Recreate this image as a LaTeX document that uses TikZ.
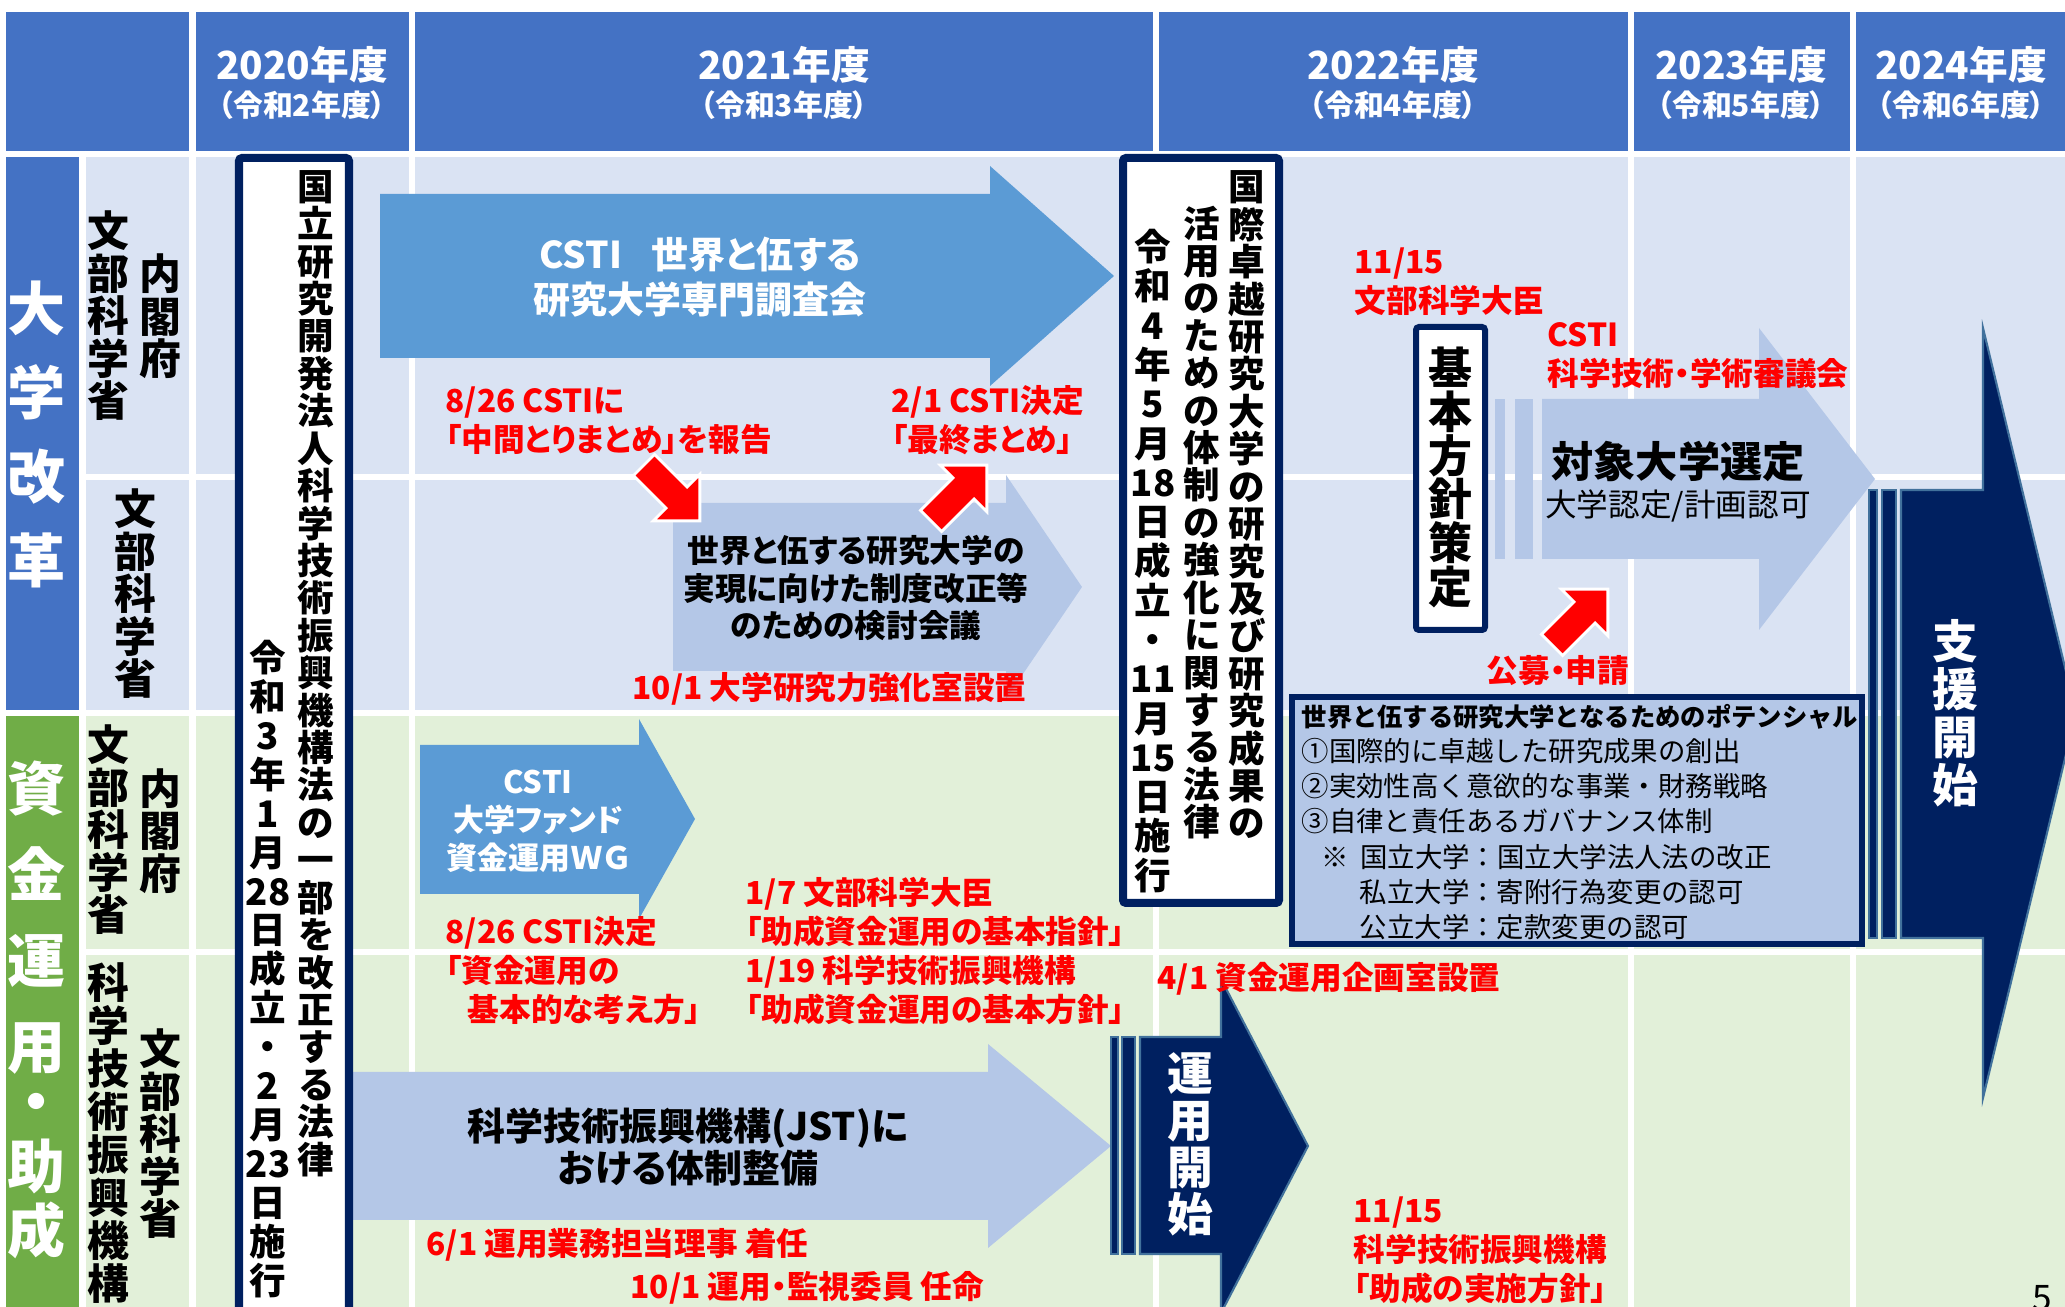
\documentclass[tikz,border=0pt]{standalone}
\usepackage{fontspec}
\setmainfont{Noto Sans CJK JP}[RawFeature=+palt]
\newfontfamily\plainjp{Noto Sans CJK JP}
\usetikzlibrary{positioning}
\definecolor{hdblue}{HTML}{4472C4}
\definecolor{cellblue}{HTML}{DAE3F3}
\definecolor{cellgreen}{HTML}{E2F0D9}
\definecolor{bandgreen}{HTML}{70AD47}
\definecolor{arrblue}{HTML}{5B9BD5}
\definecolor{arrlight}{HTML}{B4C7E7}
\definecolor{navy}{HTML}{002060}
\definecolor{navyedge}{HTML}{41719C}
\definecolor{alert}{HTML}{FF0000}
% vertical (tategaki) text: one character per line, {28} keeps digits together
\makeatletter
\newcommand\tate[2][1em]{\vbox{\baselineskip=#1\lineskiplimit=-\maxdimen\lineskip=0pt\tate@i#2\tate@end}}
\def\tate@end{\tate@end}
\def\tate@i#1{\ifx\tate@end#1\else\hbox to 1em{\hss#1\hss}\expandafter\tate@i\fi}
\makeatother
\tikzset{
  hdr/.style={text=white, inner sep=0, font=\fontsize{11}{13}\selectfont\bfseries},
  hdrsub/.style={text=white, inner sep=0, font=\fontsize{8.5}{10}\selectfont\bfseries},
  band/.style={text=white, inner sep=0, font=\fontsize{16.5}{20}\selectfont\bfseries},
  org/.style={inner sep=0, font=\fontsize{11.9}{14}\selectfont\bfseries},
  law/.style={inner sep=0, font=\fontsize{10.4}{12}\selectfont\bfseries},
  note/.style={text=alert, inner sep=0, anchor=west, align=left, font=\fontsize{9}{11.1}\selectfont\bfseries},
  arrtext/.style={inner sep=0, align=center},
  navyarrow/.style={fill=navy, draw=navyedge, line width=0.6pt},
  pointer/.style={fill=alert, draw=white, line width=0.8pt, line join=miter},
  cellline/.style={white, line width=0.06cm},
  lawbox/.style={draw=navy, fill=white, rounded corners=0.03cm}
}

\begin{document}
\begin{tikzpicture}[x=0.01cm, y=-0.01cm]
  \useasboundingbox (0,0) rectangle (2065,1307);
  \fill[white] (0,0) rectangle (2065,1307);

  % table: header, row bands, grid
  \fill[hdblue] (6,12) rectangle (2065,151);
  \fill[hdblue] (6,157) rectangle (79,710);
  \fill[bandgreen] (6,716) rectangle (79,1307);
  \fill[cellblue] (86,157) rectangle (2065,710);
  \fill[cellgreen] (86,716) rectangle (2065,1307);
  \draw[cellline] (82.5,151) -- (82.5,1307);
  \draw[cellline] (192.5,12) -- (192.5,1307);
  \draw[cellline] (411.5,12) -- (411.5,1307);
  \draw[cellline] (1155.5,12) -- (1155.5,1307);
  \draw[cellline] (1631,12) -- (1631,1307);
  \draw[cellline] (1852.5,12) -- (1852.5,1307);
  \draw[cellline] (86,477.5) -- (2065,477.5);
  \draw[cellline] (86,952) -- (2065,952);

  \node[hdr] (fy20) at (302,65) {2020年度};
  \node[hdrsub] (wa20) at (302,105) {（令和2年度）};
  \node[hdr] (fy21) at (784,65) {2021年度};
  \node[hdrsub] (wa21) at (784,105) {（令和3年度）};
  \node[hdr] (fy22) at (1393,65) {2022年度};
  \node[hdrsub] (wa22) at (1393,105) {（令和4年度）};
  \node[hdr] (fy23) at (1741,65) {2023年度};
  \node[hdrsub] (wa23) at (1741,105) {（令和5年度）};
  \node[hdr] (fy24) at (1961,65) {2024年度};
  \node[hdrsub] (wa24) at (1961,105) {（令和6年度）};

  \node[band] (kaikaku) at (37,434.5) {\tate[23.8pt]{大学改革}};
  \node[band] (shikin) at (37,917.5) {\tate[24.4pt]{資金運用}};
  \node[band] (josei) at (37,1176.5) {\tate[18.35pt]{・助成}};

  \node[org] (mext1) at (108,316) {\tate[12.1pt]{文部科学省}};
  \node[org] (cao1) at (160,316.5) {\tate[12.1pt]{内閣府}};
  \node[org] (mext2) at (135,594) {\tate[12.1pt]{文部科学省}};
  \node[org] (mext3) at (108,830) {\tate[12.1pt]{文部科学省}};
  \node[org] (cao3) at (160,831) {\tate[12.1pt]{内閣府}};
  \node[org] (jst4) at (108,1133) {\tate[12.2pt]{科学技術振興機構}};
  \node[org] (mext4) at (160,1134) {\tate[12.1pt]{文部科学省}};

  % block arrows
  \fill[arrblue] (380,194) -- (990,194) -- (990,166) -- (1114,276) -- (990,386) -- (990,358) -- (380,358) -- cycle;
  \fill[arrlight] (673,503) -- (1006,503) -- (1006,475) -- (1082,587) -- (1006,699) -- (1006,671) -- (673,671) -- cycle;
  \fill[arrblue] (420,745) -- (639,745) -- (639,719) -- (695,819) -- (639,919) -- (639,894) -- (420,894) -- cycle;
  \fill[arrlight] (345,1072) -- (988,1072) -- (988,1044) -- (1111,1146) -- (988,1248) -- (988,1220) -- (345,1220) -- cycle;
  \fill[arrlight] (1495,399) rectangle (1505,559);
  \fill[arrlight] (1515,399) rectangle (1533,559);
  \fill[arrlight] (1542,399) -- (1759,399) -- (1759,328) -- (1875,479) -- (1759,630) -- (1759,559) -- (1542,559) -- cycle;
  \filldraw[navyarrow] (1111,1037) rectangle (1118,1254);
  \filldraw[navyarrow] (1122,1037) rectangle (1135,1254);
  \filldraw[navyarrow] (1140,1037) -- (1221,1037) -- (1221,979) -- (1308,1146) -- (1221,1313) -- (1221,1254) -- (1140,1254) -- cycle;
  \filldraw[navyarrow] (1869,490) rectangle (1877,938);
  \filldraw[navyarrow] (1882,490) rectangle (1896,938);
  \filldraw[navyarrow] (1901,490) -- (1983,490) -- (1983,328) -- (2076,713) -- (1983,1098) -- (1983,938) -- (1901,938) -- cycle;

  % law boxes
  \draw[lawbox, line width=0.08cm] (239,158) rectangle (349,1320);
  \draw[lawbox, line width=0.08cm] (1123,158) rectangle (1279,903);
  \draw[lawbox, line width=0.06cm] (1416,327) rectangle (1485,630);
  \draw[navy, line width=0.06cm, fill=arrlight] (1292,697) rectangle (1862,944);

  % red pointers
  \filldraw[pointer, shift={(644,465)}, rotate=-45] (0,-15) -- (46,-15) -- (46,-33) -- (79,0) -- (46,33) -- (46,15) -- (0,15) -- cycle;
  \filldraw[pointer, shift={(931,521)}, rotate=45] (0,-15) -- (46,-15) -- (46,-33) -- (79,0) -- (46,33) -- (46,15) -- (0,15) -- cycle;
  \filldraw[pointer, shift={(1552,645)}, rotate=45] (0,-15) -- (46,-15) -- (46,-33) -- (79,0) -- (46,33) -- (46,15) -- (0,15) -- cycle;

  \node[law] (jstlaw) at (316,673.5) {\tate[10.64pt]{国立研究開発法人科学技術振興機構法の一部を改正する法律}};
  \node[law] (jstdate) at (268,969) {\tate[11.07pt]{令和3年1月{28}日成立・2月{23}日施行}};
  \node[law] (ioulaw) at (1247,505) {\tate[10.64pt]{国際卓越研究大学の研究及び研究成果の}};
  \node[law] (ioulawb) at (1202,522.5) {\tate[10.64pt]{活用のための体制の強化に関する法律}};
  \node[law] (ioudate) at (1153,561) {\tate[11.17pt]{令和4年5月{18}日成立・{11}月{15}日施行}};
  \node[org, font=\fontsize{12.5}{14}\selectfont\bfseries] (kihon) at (1450,477.5) {\tate[12.46pt]{基本方針策定}};
  \node[band, font=\fontsize{13}{15}\selectfont\bfseries] (shien) at (1955,713) {\tate[13.66pt]{支援開始}};
  \node[band, font=\fontsize{13}{15}\selectfont\bfseries] (unyo) at (1190,1144.5) {\tate[13.37pt]{運用開始}};

  \node[arrtext, text=white, font=\fontsize{10.5}{12.8}\selectfont\bfseries] (csti) at (700,277) {CSTI\hspace{0.3cm}世界と伍する\\研究大学専門調査会};
  \node[arrtext, font=\fontsize{9}{10.8}\selectfont\bfseries] (kento) at (856,588) {世界と伍する研究大学の\\実現に向けた制度改正等\\のための検討会議};
  \node[arrtext, text=white, font=\fontsize{8.8}{10.8}\selectfont\bfseries] (fundwg) at (538,821) {CSTI\\大学ファンド\\資金運用ＷＧ};
  \node[arrtext, font=\fontsize{10.8}{12}\selectfont\bfseries] (jstsys) at (688,1147) {科学技術振興機構(JST)に\\おける体制整備};
  \node[inner sep=0, font=\fontsize{12}{14}\selectfont\bfseries] (taisho) at (1678,461) {対象大学選定};
  \node[inner sep=0, font=\fontsize{9}{11}\selectfont] (nintei) at (1678,506) {大学認定/計画認可};

  \node[inner sep=0, anchor=west, align=left, text width=5.7cm, font=\plainjp\fontsize{7.8}{10}\selectfont] (potential) at (1301,822)
    {{\fontsize{7.2}{10}\selectfont\bfseries 世界と伍する研究大学となるためのポテンシャル}\\
     ①国際的に卓越した研究成果の創出\\
     ②実効性高く意欲的な事業・財務戦略\\
     ③自律と責任あるガバナンス体制\\
     \hspace*{0.2cm}※\hspace{0.11cm}国立大学：国立大学法人法の改正\\
     \hspace*{0.58cm}私立大学：寄附行為変更の認可\\
     \hspace*{0.58cm}公立大学：定款変更の認可};

  % dated events
  \node[note] (n826) at (445,420.5) {8/26 CSTIに\\「中間とりまとめ」を報告};
  \node[note] (n201) at (891,420.5) {2/1 CSTI決定\\「最終まとめ」};
  \node[note] (n1001) at (632,689) {10/1 大学研究力強化室設置};
  \node[note] (n1115) at (1354,281.5) {11/15\\文部科学大臣};
  \node[note] (council) at (1547,355.5) {CSTI\\科学技術・学術審議会};
  \node[note, anchor=center] (koubo) at (1558,671) {公募・申請};
  \node[note] (n826b) at (445,971) {8/26 CSTI決定\\「資金運用の\\\hspace*{0.22cm}基本的な考え方」};
  \node[note] (n107) at (745,951) {1/7 文部科学大臣\\「助成資金運用の基本指針」\\1/19 科学技術振興機構\\「助成資金運用の基本方針」};
  \node[note] (n601) at (426,1245) {6/1 運用業務担当理事 着任};
  \node[note] (n1001b) at (630,1288) {10/1 運用・監視委員 任命};
  \node[note] (n401) at (1157,979) {4/1 資金運用企画室設置};
  \node[note] (n1115b) at (1353,1250) {11/15\\科学技術振興機構\\「助成の実施方針」};

  \node[inner sep=0, anchor=base, font=\fontsize{10}{12}\selectfont] (pageno) at (2042,1311) {5};
\end{tikzpicture}
\end{document}
